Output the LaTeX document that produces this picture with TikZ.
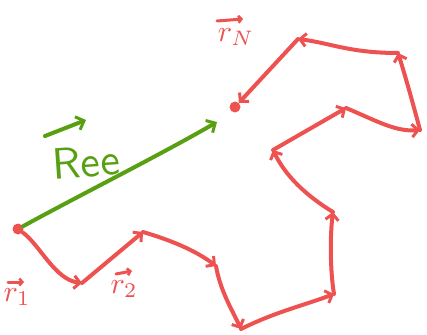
\documentclass[tikz,border=0pt]{standalone}
\usetikzlibrary{arrows.meta}
\definecolor{pen}{RGB}{238,82,80}
\definecolor{leaf}{RGB}{88,160,18}
\tikzset{
  seg/.style={draw=pen, line width=4pt, line cap=round, line join=round, -{Straight Barb[length=6pt,width=13pt,line width=3pt]}},
  reeline/.style={draw=leaf, line width=4pt, line cap=round, -{Straight Barb[length=7pt,width=14pt,line width=3pt]}},
  bar/.style={draw=pen, line width=3pt, line cap=round, -{Straight Barb[length=3pt,width=7pt,line width=2.5pt]}},
  dot/.style={circle, fill=pen, inner sep=0pt, minimum size=11pt},
  lab/.style={text=pen, scale=3},
}
\begin{document}
\begin{tikzpicture}[x=1pt,y=-1pt]
\useasboundingbox (0,0) rectangle (427,334);
\node[dot] (s) at (18,229) {};
\node[dot] (e) at (235,107) {};
\coordinate (p1) at (82,283);
\coordinate (p2) at (143,232);
\coordinate (p3) at (216,266);
\coordinate (p4) at (241,329);
\coordinate (p5) at (334,294);
\coordinate (p6) at (333,212);
\coordinate (p7) at (273,150);
\coordinate (p8) at (346,108);
\coordinate (p9) at (420,130);
\coordinate (p10) at (398,53);
\coordinate (p11) at (298,39);
\draw[seg] (s) .. controls (40,245) and (55,280) .. (p1);
\draw[seg] (p1) -- (p2);
\draw[seg] (p2) .. controls (170,240) and (195,250) .. (p3);
\draw[seg] (p3) .. controls (220,290) and (232,310) .. (p4);
\draw[seg] (p4) .. controls (275,312) and (305,305) .. (p5);
\draw[seg] (p5) .. controls (330,270) and (330,235) .. (p6);
\draw[seg] (p6) .. controls (305,195) and (285,175) .. (p7);
\draw[seg] (p7) -- (p8);
\draw[seg] (p8) .. controls (375,120) and (395,132) .. (p9);
\draw[seg] (p9) .. controls (412,100) and (405,75) .. (p10);
\draw[seg] (p10) .. controls (350,53) and (330,43) .. (p11);
\draw[seg] (p11) -- (e);
\draw[reeline] (s) .. controls (80,195) and (160,155) .. (217,122);
\node[text=leaf, font=\sffamily, scale=4.4, rotate=4] (ree) at (86,162) {Ree};
\coordinate (ra) at (45,136);
\coordinate (rb) at (86,120);
\draw[reeline] (ra) -- (rb);
% vector labels
\node[lab] (r1) at (17,297) {$r_{1}$};
\coordinate (r1a) at (8,282);
\coordinate (r1b) at (24,282);
\draw[bar] (r1a) -- (r1b);
\node[lab] (r2) at (124,289) {$r_{2}$};
\coordinate (r2a) at (116,274);
\coordinate (r2b) at (132,271);
\draw[bar] (r2a) -- (r2b);
\node[lab] (rn) at (236,37) {$r_{N}$};
\coordinate (rna) at (217,21);
\coordinate (rnb) at (243,19);
\draw[bar] (rna) -- (rnb);
\end{tikzpicture}
\end{document}
